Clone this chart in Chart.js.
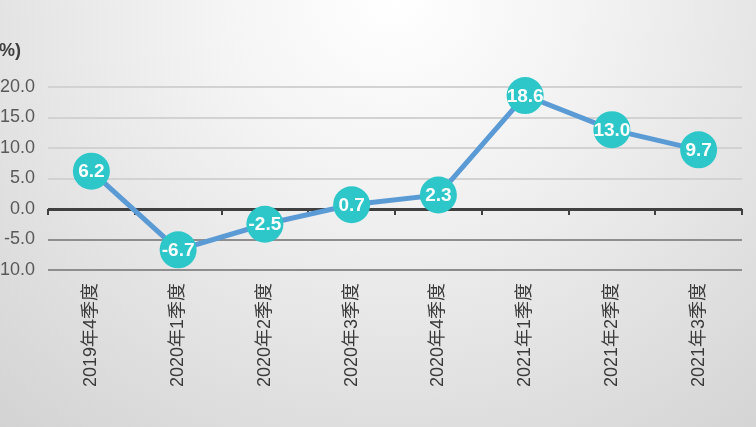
<!DOCTYPE html>
<html lang="zh">
<head>
  <meta charset="utf-8">
  <title>季度增速</title>
  <script src="https://cdn.jsdelivr.net/npm/chart.js@4.4.1/dist/chart.umd.min.js"></script>
  <style>
    html, body { margin: 0; padding: 0; }
    body {
      width: 756px; height: 427px; overflow: hidden;
      background: radial-gradient(ellipse 85% 140% at 52% 0%, #ffffff 0%, #f4f4f4 28%, #d0d0d0 100%);
    }
    canvas { display: block; }
  </style>
</head>
<body>
  <canvas id="rateChart" width="756" height="427"></canvas>
  <script>
    // values
    const quarters = ['2019年4季度', '2020年1季度', '2020年2季度', '2020年3季度',
                      '2020年4季度', '2021年1季度', '2021年2季度', '2021年3季度'];
    const growth = [6.2, -6.7, -2.5, 0.7, 2.3, 18.6, 13.0, 9.7];
    const yTicks = [-10, -5, 0, 5, 10, 15, 20];
    const unitLabel = '(%)';

    const baseFont = "'Liberation Sans', 'Noto Sans CJK SC', sans-serif";

    // dark zero line with small tick marks between quarters
    const zeroAxis = {
      id: 'zeroAxis',
      beforeDatasetsDraw(chart) {
        const { ctx, scales: { x, y } } = chart;
        const y0 = y.getPixelForValue(0);
        const half = (x.getPixelForValue(1) - x.getPixelForValue(0)) / 2;
        ctx.save();
        ctx.strokeStyle = '#404040';
        ctx.lineWidth = 2;
        for (let i = 0; i <= quarters.length; i++) {
          const px = Math.round(x.getPixelForValue(i) - half);
          ctx.beginPath();
          ctx.moveTo(px, y0);
          ctx.lineTo(px, y0 + 6);
          ctx.stroke();
        }
        ctx.restore();
      }
    };

    // value labels inside markers, plus the unit text
    const valueLabels = {
      id: 'valueLabels',
      afterDatasetsDraw(chart) {
        const { ctx } = chart;
        const meta = chart.getDatasetMeta(0);
        ctx.save();
        ctx.fillStyle = '#ffffff';
        ctx.font = "bold 19px 'Liberation Sans', Arial, sans-serif";
        ctx.textAlign = 'center';
        ctx.textBaseline = 'middle';
        meta.data.forEach((pt, i) => {
          ctx.fillText(growth[i].toFixed(1), pt.x, pt.y + 1);
        });
        ctx.fillStyle = '#404040';
        ctx.font = "bold 18px 'Liberation Sans', Arial, sans-serif";
        ctx.textAlign = 'right';
        ctx.fillText(unitLabel, 21, 51);
        ctx.restore();
      }
    };

    new Chart(document.getElementById('rateChart'), {
      type: 'line',
      data: {
        labels: quarters,
        datasets: [{
          data: growth,
          clip: false,
          borderColor: '#5b9bd5',
          borderWidth: 5,
          pointRadius: 18.5,
          pointHoverRadius: 18.5,
          pointBackgroundColor: '#2ec7c9',
          pointBorderColor: '#2ec7c9',
          pointBorderWidth: 0,
          tension: 0
        }]
      },
      options: {
        responsive: false,
        animation: false,
        devicePixelRatio: 1,
        layout: { autoPadding: false, padding: { top: 87, right: 14, left: 0, bottom: 0 } },
        plugins: { legend: { display: false }, tooltip: { enabled: false } },
        scales: {
          x: {
            offset: true,
            grid: { display: false },
            border: { display: false },
            ticks: {
              minRotation: 90, maxRotation: 90,
              padding: 5,
              color: '#3a3a3a',
              font: { family: baseFont, size: 18 }
            },
            afterFit(scale) {
              scale.height = 157;
              scale.paddingLeft = 0;
              scale.paddingRight = 0;
            }
          },
          y: {
            min: -10, max: 20,
            afterBuildTicks(scale) { scale.ticks = yTicks.map(v => ({ value: v })); },
            border: { display: false },
            grid: {
              drawTicks: false,
              color: ctx => ctx.tick.value === 0 ? '#404040' : (ctx.tick.value < 0 ? '#8e8e8e' : '#d2d2d2'),
              lineWidth: ctx => ctx.tick.value === 0 ? 3 : 2
            },
            ticks: {
              padding: 13,
              color: '#595959',
              font: { family: baseFont, size: 18 },
              callback: v => v.toFixed(1)
            },
            afterFit(scale) { scale.width = 48; }
          }
        }
      },
      plugins: [zeroAxis, valueLabels]
    });
  </script>
</body>
</html>
